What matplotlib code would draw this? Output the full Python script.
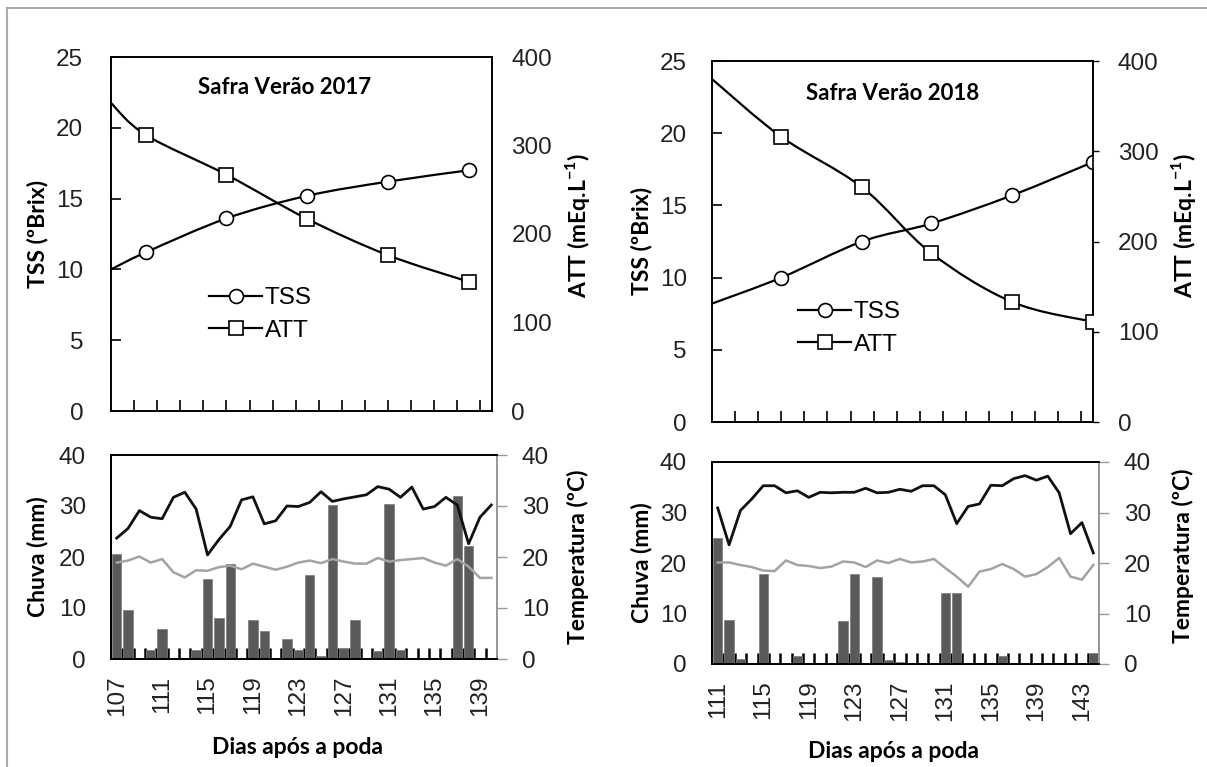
import numpy as np
import matplotlib
matplotlib.use("Agg")
import matplotlib.pyplot as plt
from matplotlib.path import Path
from matplotlib.patches import PathPatch
from matplotlib.lines import Line2D

plt.rcParams['font.family'] = ['Liberation Sans', 'DejaVu Sans']
plt.rcParams['mathtext.fontset'] = 'custom'
plt.rcParams['mathtext.rm'] = 'Lato'
plt.rcParams['mathtext.bf'] = 'Lato:bold'

# ---------------- data ----------------
# Top panels (sampling days; first value is where the curve enters the axis)
days17 = [107, 110, 117, 124, 131, 138]
tss17 = [10.0, 11.2, 13.6, 15.2, 16.2, 17.0]
att17 = [348, 312, 267, 217, 176, 146]

days18 = [111, 117, 124, 130, 137, 144]
tss18 = [8.2, 10.0, 12.5, 13.75, 15.7, 18.0]
att18 = [380, 316, 260, 187, 133, 111]

# Bottom panels (daily)
wdays17 = list(range(107, 141))
rain17 = [20.5, 9.6, 0, 1.7, 5.9, 0, 0, 1.7, 15.6, 8.0, 18.7, 0, 7.6, 5.5, 0, 4.0, 1.7,
          16.4, 0.5, 30.1, 2.1, 7.7, 0, 1.5, 30.4, 1.8, 0, 0, 0, 0, 32.0, 22.2, 0, 0]
tmax17 = [23.7, 25.6, 29.1, 27.8, 27.5, 31.7, 32.7, 29.4, 20.4, 23.4, 26.0, 31.2, 31.8,
          26.5, 27.1, 30.0, 29.9, 30.7, 32.8, 30.9, 31.4, 31.8, 32.2, 33.8, 33.3, 31.7,
          33.7, 29.4, 29.9, 31.7, 30.2, 22.6, 27.8, 30.2]
tmin17 = [18.9, 19.3, 20.1, 18.9, 19.6, 17.0, 16.0, 17.4, 17.3, 18.0, 18.3, 17.6, 18.7,
          18.1, 17.5, 18.1, 18.9, 19.3, 18.8, 19.6, 19.1, 18.7, 18.7, 19.8, 19.1, 19.4,
          19.6, 19.8, 18.9, 18.3, 19.6, 18.1, 15.9, 15.9]

wdays18 = list(range(111, 145))
rain18 = [24.9, 8.7, 1.0, 0, 17.8, 0, 0, 1.5, 0, 0, 0, 8.5, 17.8, 0, 17.2, 0.8, 0.3,
          0, 0, 0, 14.1, 14.1, 0, 0, 0, 1.5, 0, 0, 0, 0, 0, 0, 0, 2.1]
tmax18 = [30.9, 23.6, 30.4, 32.7, 35.3, 35.3, 33.9, 34.3, 33.0, 34.0, 33.9, 34.0, 34.0,
          34.8, 33.9, 34.0, 34.6, 34.2, 35.3, 35.3, 33.5, 27.8, 31.2, 31.7, 35.4, 35.3,
          36.7, 37.3, 36.4, 37.2, 33.9, 25.8, 28.0, 22.0]
tmin18 = [20.1, 20.1, 19.6, 19.2, 18.5, 18.4, 20.5, 19.6, 19.4, 19.0, 19.3, 20.3, 20.1,
          19.2, 20.5, 20.0, 20.8, 20.1, 20.3, 20.8, 19.0, 17.3, 15.3, 18.3, 18.8, 19.8,
          18.8, 17.3, 17.8, 19.2, 21.0, 17.3, 16.7, 19.6]

labels17 = [107, 111, 115, 119, 123, 127, 131, 135, 139]
labels18 = [111, 115, 119, 123, 127, 131, 135, 139, 143]

titles = ["Safra Verão 2017", "Safra Verão 2018"]

# ---------------- layout ----------------
W, H = 1207, 767
fig = plt.figure(figsize=(W / 100, H / 100), dpi=100)


def rect(l, t, r, b):
    return [l / W, 1 - b / H, (r - l) / W, (b - t) / H]


TICK_FS = 17.5
LAB_FS = 16.5
BOLD = dict(family=['Lato', 'DejaVu Sans'], weight='bold', fontsize=LAB_FS)


def smooth_path(x, y):
    pts = np.column_stack([x, y]).astype(float)
    n = len(pts)
    verts = [pts[0]]
    codes = [Path.MOVETO]
    for i in range(n - 1):
        p0 = pts[i - 1] if i > 0 else pts[i]
        p1 = pts[i]
        p2 = pts[i + 1]
        p3 = pts[i + 2] if i + 2 < n else pts[i + 1]
        c1 = p1 + (p2 - p0) / 6.0
        c2 = p2 - (p3 - p1) / 6.0
        verts += [c1, c2, p2]
        codes += [Path.CURVE4] * 3
    return Path(verts, codes)


def top_panel(r, lpad, days, tss, att, title, title_xy, leg_xy, right_ticks):
    ax = fig.add_axes(rect(*r))
    ax2 = ax.twinx()
    x0, x1 = days[0], days[0] + 33
    ax.set_xlim(x0, x1)
    ax.set_ylim(0, 25)
    ax2.set_ylim(0, 400)
    ax.set_yticks(np.arange(0, 26, 5))
    ax2.set_yticks(np.arange(0, 401, 100))
    ax.set_xticks(np.arange(x0 + 2, x1, 2))
    ax.set_xticklabels([])
    ax.tick_params(axis='x', direction='in', length=8, width=1.2, color='black')
    ax.tick_params(axis='y', direction='in', length=7, width=1.2, pad=lpad,
                   labelsize=TICK_FS, color='black', labelcolor='#222222')
    ax2.tick_params(axis='y', direction='out', length=right_ticks, width=1.0, pad=14,
                    labelsize=TICK_FS, color='black', labelcolor='#222222')
    for a in (ax, ax2):
        for s in a.spines.values():
            s.set_linewidth(1.2)
            s.set_color('black')
    ax.add_patch(PathPatch(smooth_path(days, tss), fill=False, lw=1.6, color='black'))
    ax2.add_patch(PathPatch(smooth_path(days, att), fill=False, lw=1.6, color='black'))
    ax.plot(days[1:], tss[1:], ls='none', marker='o', ms=10, mfc='white', mec='black', mew=1.2,
            zorder=5)
    ax2.plot(days[1:], att[1:], ls='none', marker='s', ms=10, mfc='white', mec='black', mew=1.2,
             zorder=5)
    h1 = Line2D([], [], color='black', lw=1.6, marker='o', ms=10, mfc='white', mec='black', mew=1.2)
    h2 = Line2D([], [], color='black', lw=1.6, marker='s', ms=10, mfc='white', mec='black', mew=1.2)
    fig.legend([h1, h2], ['TSS', 'ATT'], loc='upper left',
               bbox_to_anchor=(leg_xy[0] / W, 1 - leg_xy[1] / H), frameon=False,
               fontsize=17.5, handlelength=2.2, handletextpad=0.1, labelspacing=0.45,
               borderpad=0, borderaxespad=0)
    fig.text(title_xy[0] / W, 1 - title_xy[1] / H, title, ha='center', va='center',
             family=['Lato', 'DejaVu Sans'], weight='bold', fontsize=16,
             bbox=dict(facecolor='white', edgecolor='none', pad=1))
    return ax


def bottom_panel(r, wdays, rain, tmax, tmin, labels):
    ax = fig.add_axes(rect(*r))
    ax2 = ax.twinx()
    ax.bar(wdays, rain, width=0.82, color='#5a5a5a', edgecolor='#7a7a7a', lw=0.5, zorder=2)
    ax.set_xlim(wdays[0] - 0.5, wdays[-1] + 0.5)
    ax.set_ylim(0, 40)
    ax2.set_ylim(0, 40)
    ax.set_yticks(np.arange(0, 41, 10))
    ax2.set_yticks(np.arange(0, 41, 10))
    ax.set_xticks(labels)
    ax.set_xticklabels([str(v) for v in labels], rotation=90)
    ax.set_xticks(np.arange(wdays[0] + 0.5, wdays[-1]), minor=True)
    ax.tick_params(axis='x', which='major', length=0, pad=12, labelsize=TICK_FS,
                   labelcolor='#222222')
    ax.tick_params(axis='x', which='minor', direction='in', length=8, width=1.8, color='black')
    ax.tick_params(axis='y', length=0, pad=18, labelsize=TICK_FS, labelcolor='#222222')
    ax2.tick_params(axis='y', direction='out', length=7, width=1.0, color='#999999', pad=11,
                    labelsize=TICK_FS, labelcolor='#222222')
    ax2.plot(wdays, tmin, color='#a3a3a3', lw=1.8, zorder=3)
    ax2.plot(wdays, tmax, color='#111111', lw=2.0, zorder=4)
    for a in (ax, ax2):
        for k, s in a.spines.items():
            s.set_linewidth(1.3)
            s.set_color('#999999' if k == 'right' else 'black')
    return ax


top_panel((111, 57, 492, 411), 20, days17, tss17, att17, titles[0], (285, 87), (209, 287), 0)
top_panel((712, 61, 1093, 422), 18, days18, tss18, att18, titles[1], (893, 94), (798, 301), 4)
bottom_panel((111, 455, 497, 659), wdays17, rain17, tmax17, tmin17, labels17)
bottom_panel((712, 462, 1099, 664), wdays18, rain18, tmax18, tmin18, labels18)

att_lab = 'ATT (mEq.L$^{\\mathbf{-1}}$)'
ylabels = [
    ("TSS (ºBrix)", 38, 234), (att_lab, 578, 226),
    ("Chuva (mm)", 38, 557), ("Temperatura (ºC)", 578, 557),
    ("TSS (ºBrix)", 641, 241), (att_lab, 1183, 226),
    ("Chuva (mm)", 641, 563), ("Temperatura (ºC)", 1183, 556),
]
for txt, x, y in ylabels:
    fig.text(x / W, 1 - y / H, txt, rotation=90, ha='center', va='center', **BOLD)

fig.text(297 / W, 1 - 747 / H, "Dias após a poda", ha='center', va='center', **BOLD)
fig.text(894 / W, 1 - 752 / H, "Dias após a poda", ha='center', va='center', **BOLD)

# frame border of the original figure
fig.add_artist(Line2D([7 / W, 7 / W], [0, 1 - 8 / H], color='#aaaaaa', lw=1.5,
                      transform=fig.transFigure))
fig.add_artist(Line2D([7 / W, 1], [1 - 8 / H, 1 - 8 / H], color='#aaaaaa', lw=1.5,
                      transform=fig.transFigure))

fig.savefig("out.png", dpi=100)
